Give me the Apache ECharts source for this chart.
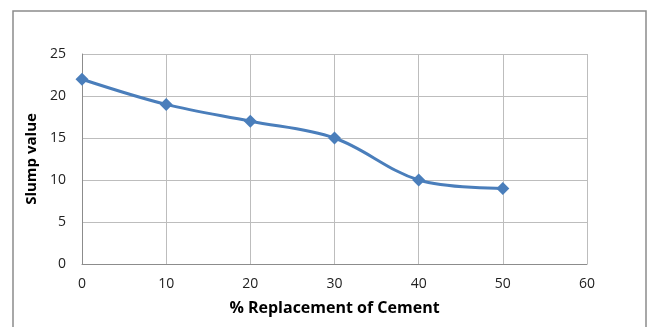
<!DOCTYPE html>
<html>
<head>
<meta charset="utf-8">
<script src="https://cdn.jsdelivr.net/npm/echarts@6/dist/echarts.min.js"></script>
<style>
  html, body { margin: 0; padding: 0; background: #fff; }
  #chart { width: 648px; height: 327px; }
</style>
</head>
<body>
<div id="chart"></div>
<script>
// % replacement of cement vs slump value
var replacement = [0, 10, 20, 30, 40, 50];
var slump = [22, 19, 17, 15, 10, 9];
var xTicks = [0, 10, 20, 30, 40, 50, 60];
var yTicks = [0, 5, 10, 15, 20, 25];

var points = replacement.map(function (x, i) { return [x, slump[i]]; });

var chart = echarts.init(document.getElementById('chart'));
chart.setOption({
    animation: false,
    backgroundColor: '#fff',
    textStyle: { fontFamily: 'Open Sans' },
    graphic: [{
        type: 'rect',
        shape: { x: 13, y: 11, width: 633, height: 340 },
        style: { fill: 'none', stroke: '#8c8c8c', lineWidth: 1.5 },
        z: -1
    }],
    grid: { left: 82, right: 61, top: 54, bottom: 63 },
    xAxis: {
        type: 'value',
        min: xTicks[0],
        max: xTicks[xTicks.length - 1],
        interval: 10,
        name: '% Replacement of Cement',
        nameLocation: 'middle',
        nameGap: 36,
        nameTextStyle: { fontSize: 16, fontWeight: 'bold', color: '#000' },
        axisLine: { lineStyle: { color: '#8c8c8c' } },
        axisTick: { show: false },
        axisLabel: { color: '#222', fontSize: 14, margin: 13 },
        splitLine: { show: true, lineStyle: { color: '#bdbdbd', width: 1 } }
    },
    yAxis: {
        type: 'value',
        min: yTicks[0],
        max: yTicks[yTicks.length - 1],
        interval: 5,
        name: 'Slump value',
        nameLocation: 'middle',
        nameGap: 42,
        nameTextStyle: { fontSize: 15, fontWeight: 'bold', color: '#000' },
        axisLine: { show: true, lineStyle: { color: '#8c8c8c' } },
        axisTick: { show: false },
        axisLabel: { color: '#222', fontSize: 14, margin: 16 },
        splitLine: { show: true, lineStyle: { color: '#bdbdbd', width: 1 } }
    },
    series: [{
        type: 'line',
        data: points,
        smooth: 0.35,
        symbol: 'diamond',
        symbolSize: 13,
        lineStyle: { color: '#4a7ebb', width: 3 },
        itemStyle: { color: '#4a7ebb' }
    }]
});
</script>
</body>
</html>
